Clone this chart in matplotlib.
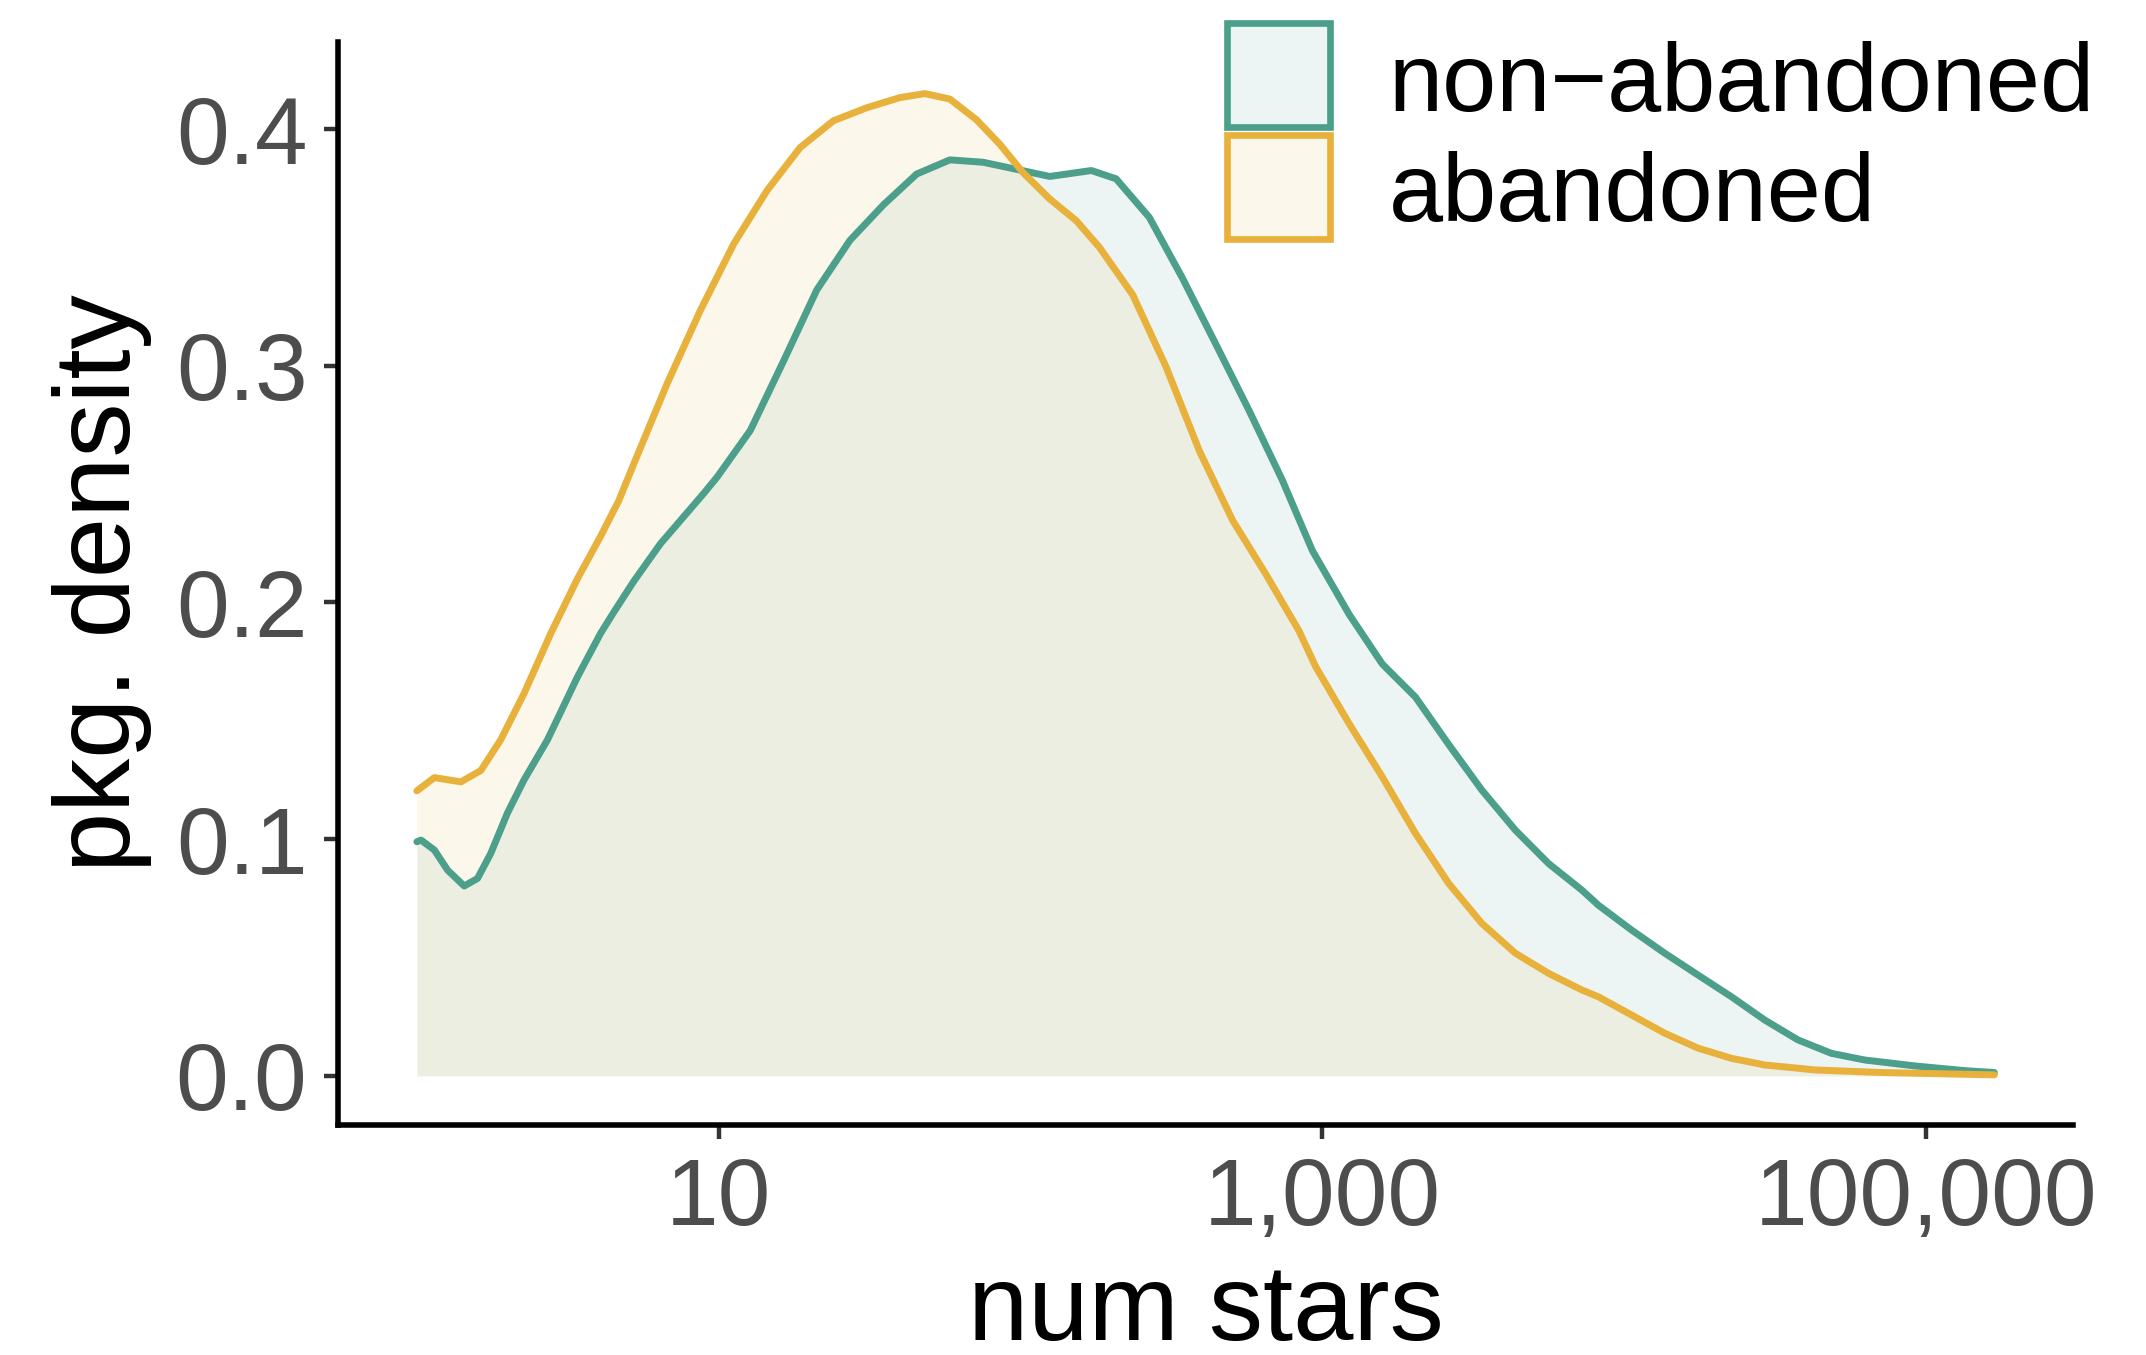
import numpy as np
import matplotlib
matplotlib.use('Agg')
import matplotlib.pyplot as plt
from matplotlib.patches import Rectangle
from matplotlib.ticker import FixedLocator, FixedFormatter, NullLocator

plt.rcParams['font.family'] = ['Liberation Sans', 'DejaVu Sans']

# density curves (x in log10 of num stars)
log_stars_non = [0.000, 0.014, 0.058, 0.102, 0.157, 0.201, 0.245, 0.300, 0.355, 0.433, 0.532,
                 0.609, 0.653, 0.719, 0.807, 0.950, 0.995, 1.105, 1.215, 1.325, 1.435, 1.546,
                 1.656, 1.766, 1.876, 1.987, 2.097, 2.235, 2.317, 2.427, 2.537, 2.648, 2.758,
                 2.868, 2.967, 3.089, 3.199, 3.309, 3.419, 3.529, 3.640, 3.750, 3.860, 3.915,
                 4.025, 4.135, 4.245, 4.356, 4.466, 4.576, 4.687, 4.797, 4.962, 5.128, 5.227]
dens_non = [0.0989, 0.0996, 0.0954, 0.0869, 0.0802, 0.0834, 0.0940, 0.1110, 0.1250, 0.1420, 0.1685,
            0.1870, 0.1960, 0.2090, 0.2248, 0.2460, 0.2530, 0.2727, 0.3020, 0.3320, 0.3530, 0.3680,
            0.3810, 0.3870, 0.3860, 0.3830, 0.3800, 0.3825, 0.3790, 0.3627, 0.3370, 0.3090, 0.2810,
            0.2516, 0.2220, 0.1950, 0.1740, 0.1600, 0.1400, 0.1207, 0.1038, 0.0897, 0.0785, 0.0721,
            0.0616, 0.0518, 0.0426, 0.0334, 0.0236, 0.0152, 0.0095, 0.0067, 0.0042, 0.0022, 0.0014]

log_stars_ab = [0.000, 0.058, 0.146, 0.212, 0.278, 0.355, 0.444, 0.532, 0.609, 0.669, 0.719,
                0.829, 0.939, 1.050, 1.160, 1.270, 1.380, 1.490, 1.600, 1.683, 1.766, 1.854,
                1.931, 2.008, 2.097, 2.185, 2.262, 2.372, 2.483, 2.593, 2.703, 2.813, 2.923,
                2.979, 3.089, 3.199, 3.309, 3.419, 3.529, 3.640, 3.750, 3.860, 3.915, 4.025,
                4.135, 4.245, 4.356, 4.466, 4.632, 4.852, 5.227]
dens_ab = [0.1204, 0.1260, 0.1242, 0.1290, 0.1420, 0.1615, 0.1870, 0.2100, 0.2280, 0.2430, 0.2586,
           0.2924, 0.3233, 0.3515, 0.3740, 0.3922, 0.4035, 0.4090, 0.4133, 0.4150, 0.4127, 0.4040,
           0.3937, 0.3817, 0.3705, 0.3613, 0.3500, 0.3300, 0.2994, 0.2640, 0.2347, 0.2120, 0.1880,
           0.1727, 0.1488, 0.1263, 0.1024, 0.0813, 0.0644, 0.0518, 0.0433, 0.0363, 0.0334, 0.0257,
           0.0180, 0.0117, 0.0074, 0.0046, 0.0025, 0.0014, 0.0004]

groups = ['non\u2212abandoned', 'abandoned']
colors = ['#4B9F8B', '#E8B13B']

x_ticks = [10, 1000, 100000]
x_tick_labels = ['10', '1,000', '100,000']
y_ticks = [0.0, 0.1, 0.2, 0.3, 0.4]
y_tick_labels = ['0.0', '0.1', '0.2', '0.3', '0.4']

fig = plt.figure(figsize=(10.73, 6.775), dpi=200)
ax = fig.add_axes([0.1575, 0.1697, 0.8085, 0.7993])

series = [(log_stars_non, dens_non), (log_stars_ab, dens_ab)]
for (lx, d), col in zip(series, colors):
    stars = 10 ** np.array(lx)
    ax.fill_between(stars, d, 0, color=col, alpha=0.1, lw=0)
    ax.plot(stars, d, color=col, lw=2.5, solid_capstyle='round', solid_joinstyle='round')

ax.set_xscale('log')
ax.set_xlim(10 ** -0.2613, 10 ** 5.4878)
ax.set_ylim(-0.0208, 0.4368)

ax.xaxis.set_major_locator(FixedLocator(x_ticks))
ax.xaxis.set_major_formatter(FixedFormatter(x_tick_labels))
ax.xaxis.set_minor_locator(NullLocator())
ax.yaxis.set_major_locator(FixedLocator(y_ticks))
ax.yaxis.set_major_formatter(FixedFormatter(y_tick_labels))

for s in ['top', 'right']:
    ax.spines[s].set_visible(False)
for s in ['left', 'bottom']:
    ax.spines[s].set_linewidth(2.0)
    ax.spines[s].set_color('black')

ax.tick_params(axis='both', which='major', length=5, width=1.6, color='#333333',
               labelcolor='#4D4D4D', labelsize=34)
ax.tick_params(axis='x', pad=6.0)
ax.tick_params(axis='y', pad=6.0)

ax.set_xlabel('num stars', fontsize=39, color='black')
ax.xaxis.label.set_va('baseline')
ax.xaxis.set_label_coords(0.5, -0.1985)
ax.set_ylabel('pkg. density', fontsize=39, color='black')
ax.yaxis.set_label_coords(-0.1072, 0.5)

# legend drawn by hand, top right
key_x = 1227 / 2146
key_w = 103 / 2146
key_h = 104 / 1355
key_y = [1 - 127 / 1355, 1 - 239 / 1355]
text_y = [1 - 111 / 1355, 1 - 221 / 1355]
for lab, col, ky, ty in zip(groups, colors, key_y, text_y):
    fc = matplotlib.colors.to_rgba(col, 0.1)
    fig.patches.append(Rectangle((key_x, ky), key_w, key_h, transform=fig.transFigure,
                                 facecolor=fc, edgecolor=col, lw=2.4))
    fig.text(1389 / 2146, ty, lab, fontsize=35, color='black', ha='left', va='baseline')

fig.savefig('out.png', dpi=200)
